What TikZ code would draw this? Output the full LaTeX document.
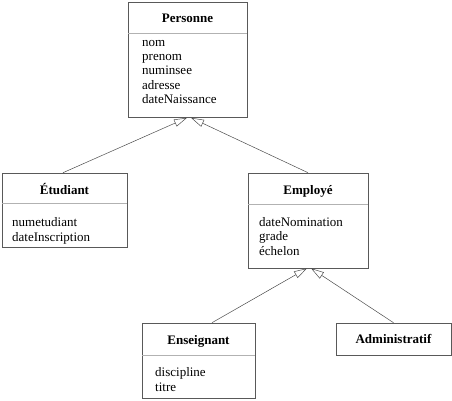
\documentclass[tikz,border=0pt]{standalone}
\usepackage{fontspec}
\setmainfont{Liberation Serif}
\usetikzlibrary{arrows.meta}
\begin{document}
\begin{tikzpicture}[x=1pt,y=-1pt,
  box/.style={draw=black!65,line width=0.6pt,rectangle,inner sep=0pt},
  sep/.style={draw=black!30,line width=0.6pt},
  title/.style={font=\fontsize{13}{14}\selectfont\bfseries,anchor=base,inner sep=0pt},
  attr/.style={font=\fontsize{13}{14}\selectfont,anchor=base west,inner sep=0pt},
  inh/.style={draw=black!70,line width=0.5pt,-{Triangle[open,length=13pt,width=7.5pt]}}]
\useasboundingbox (0,0) rectangle (452,400);
% Personne
\node[box,minimum width=119pt,minimum height=115.5pt] (per) at (187.5,59.75) {};
\draw[sep] (128,33) -- (247,33);
\node[title] (pert) at (187.5,22.5) {Personne};
\node[attr] (p1) at (142,46) {nom};
\node[attr] (p2) at (142,60.3) {prenom};
\node[attr] (p3) at (142,74.6) {numinsee};
\node[attr] (p4) at (142,89) {adresse};
\node[attr] (p5) at (142,103.2) {dateNaissance};
% Etudiant
\node[box,minimum width=125pt,minimum height=74pt] (etu) at (64.5,210) {};
\draw[sep] (2,203.5) -- (127,203.5);
\node[title] (etut) at (64.5,194.5) {Étudiant};
\node[attr] (e1) at (12,226.5) {numetudiant};
\node[attr] (e2) at (12,241) {dateInscription};
% Employe
\node[box,minimum width=120pt,minimum height=95pt] (emp) at (308,220.5) {};
\draw[sep] (248,204) -- (368,204);
\node[title] (empt) at (308,194.5) {Employé};
\node[attr] (m1) at (259,226.5) {dateNomination};
\node[attr] (m2) at (259,240.8) {grade};
\node[attr] (m3) at (259,255.2) {échelon};
% Enseignant
\node[box,minimum width=113pt,minimum height=75pt] (ens) at (198.5,360.5) {};
\draw[sep] (142,355) -- (255,355);
\node[title] (enst) at (198.5,344.5) {Enseignant};
\node[attr] (n1) at (155,376.5) {discipline};
\node[attr] (n2) at (155,391) {titre};
% Administratif
\node[box,minimum width=115pt,minimum height=32pt] (adm) at (393.5,339) {};
\node[title] (admt) at (393.5,343.8) {Administratif};
% inheritance
\draw[inh] ([xshift=-1.5pt]etu.north) -- ([xshift=-0.5pt]per.south);
\draw[inh] (emp.north) -- ([xshift=3.5pt]per.south);
\draw[inh] ([xshift=13.5pt]ens.north) -- ([xshift=-1pt]emp.south);
\draw[inh] (adm.north) -- ([xshift=3pt]emp.south);
\end{tikzpicture}
\end{document}
